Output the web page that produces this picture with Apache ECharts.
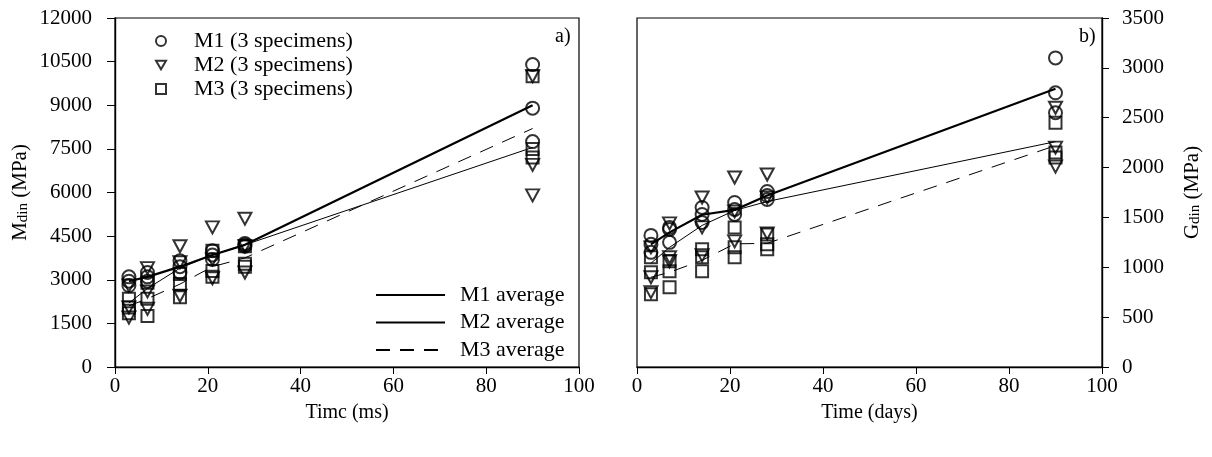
<!DOCTYPE html>
<html>
<head>
<meta charset="utf-8">
<script src="https://cdn.jsdelivr.net/npm/echarts/dist/echarts.min.js"></script>
<style>
  html, body { margin: 0; padding: 0; background: #fff; }
  #chart { width: 1212px; height: 457px; }
</style>
</head>
<body>
<div id="chart"></div>
<script>
// Curing ages (days) at which each specimen was tested
const days = [3, 7, 14, 21, 28, 90];

// Dynamic modulus M_din (MPa): three specimens per age
const m1Mdin = [[3100, 2950, 2800], [3250, 3100, 2950], [3650, 3450, 3250], [4000, 3850, 3700], [4250, 4200, 4150], [10400, 8900, 7750]];
const m2Mdin = [[2800, 2050, 1700], [3400, 2600, 2000], [4150, 3600, 2450], [4800, 3700, 3050], [5100, 4150, 3250], [10000, 6950, 5900]];
const m3Mdin = [[2350, 2050, 1850], [2900, 2350, 1750], [3200, 2850, 2400], [4000, 3300, 3100], [4150, 3550, 3450], [10000, 7500, 7200]];
const m1MdinAvg = [2950, 3100, 3450, 3850, 4200, 9000];
const m2MdinAvg = [2200, 2700, 3400, 3850, 4200, 7550];
const m3MdinAvg = [2100, 2350, 2850, 3450, 3750, 8200];

// Dynamic shear modulus G_din (MPa): three specimens per age
const m1Gdin = [[1320, 1230, 1150], [1400, 1380, 1250], [1600, 1530, 1450], [1650, 1580, 1530], [1760, 1720, 1680], [3100, 2750, 2550]];
const m2Gdin = [[1200, 900, 750], [1440, 1100, 1060], [1700, 1400, 1120], [1900, 1560, 1260], [1930, 1700, 1340], [2600, 2200, 2010]];
const m3Gdin = [[1100, 950, 730], [1060, 960, 800], [1180, 1100, 960], [1400, 1200, 1100], [1330, 1230, 1180], [2450, 2150, 2100]];
const m1GdinAvg = [1230, 1350, 1527, 1575, 1720, 2790];
const m2GdinAvg = [1040, 1200, 1420, 1570, 1660, 2260];
const m3GdinAvg = [900, 950, 1070, 1235, 1240, 2220];

// Axis ranges / tick steps
const timeAxis = { min: 0, max: 100, interval: 20 };
const mdinAxis = { min: 0, max: 12000, interval: 1500 };
const gdinAxis = { min: 0, max: 3500, interval: 500 };

const FONT = "'Liberation Serif', 'Times New Roman', serif";
const INK = '#000';

function specimens(vals) {
  const out = [];
  days.forEach((d, i) => vals[i].forEach(v => out.push([d, v])));
  return out;
}
function averages(vals) {
  return days.map((d, i) => [d, vals[i]]);
}

const downTriangle = 'path://M0,0L12,0L6,10.4Z';
const markerStyle = { color: 'rgba(255,255,255,0)', borderColor: INK, borderWidth: 2 };

function scatter(name, data, symbol, size, idx) {
  return {
    type: 'scatter', name, data: specimens(data), symbol, symbolSize: size,
    xAxisIndex: idx, yAxisIndex: idx, itemStyle: markerStyle, z: 3,
    emphasis: { disabled: true }
  };
}
function avgLine(name, data, width, type, idx) {
  return {
    type: 'line', name, data: averages(data), symbol: 'none', showSymbol: false,
    xAxisIndex: idx, yAxisIndex: idx, z: 2,
    lineStyle: { color: INK, width, type },
    itemStyle: { color: INK },
    emphasis: { disabled: true }
  };
}

const labelStyle = { color: INK, fontFamily: FONT, fontSize: 21, formatter: v => String(v) };
const lineStyle = { lineStyle: { color: INK, width: 1.4 } };

function xAxis(idx, name) {
  return {
    type: 'value', gridIndex: idx, ...timeAxis,
    name, nameLocation: 'middle', nameGap: 36,
    nameTextStyle: { color: INK, fontFamily: FONT, fontSize: 20 },
    axisLine: { show: true, onZero: false, ...lineStyle },
    axisTick: { show: true, inside: false, length: 7, lineStyle: { color: INK, width: 1 } },
    axisLabel: { ...labelStyle, margin: 9 },
    splitLine: { show: false }
  };
}
function subscriptName(sym) {
  return '{m|' + sym + '}{s|din}{m| (MPa)}';
}
const nameRich = {
  m: { fontFamily: FONT, fontSize: 21, color: INK },
  s: { fontFamily: FONT, fontSize: 15, color: INK, verticalAlign: 'bottom' }
};

const chart = echarts.init(document.getElementById('chart'), null, { renderer: 'canvas' });

chart.setOption({
  animation: false,
  backgroundColor: '#fff',
  grid: [
    { left: 115, right: 633, top: 18, bottom: 90, show: true, borderColor: INK, borderWidth: 1.2, backgroundColor: 'transparent' },
    { left: 637, right: 110, top: 18, bottom: 90, show: true, borderColor: INK, borderWidth: 1.2, backgroundColor: 'transparent' }
  ],
  xAxis: [xAxis(0, 'Timc (ms)'), xAxis(1, 'Time (days)')],
  yAxis: [
    {
      type: 'value', gridIndex: 0, ...mdinAxis, position: 'left',
      name: subscriptName('M'), nameLocation: 'middle', nameGap: 84, nameRotate: 90,
      nameTextStyle: { rich: nameRich },
      axisLine: { show: true, onZero: false, ...lineStyle },
      axisTick: { show: true, inside: false, length: 8, lineStyle: { color: INK, width: 1 } },
      axisLabel: { ...labelStyle, margin: 23 },
      splitLine: { show: false }
    },
    {
      type: 'value', gridIndex: 1, ...gdinAxis, position: 'right',
      name: subscriptName('G'), nameLocation: 'middle', nameGap: 80, nameRotate: 90,
      nameTextStyle: { rich: nameRich },
      axisLine: { show: true, onZero: false, ...lineStyle },
      axisTick: { show: true, inside: false, length: 7, lineStyle: { color: INK, width: 1 } },
      axisLabel: { ...labelStyle, margin: 20 },
      splitLine: { show: false }
    }
  ],
  legend: [
    {
      data: ['M1 (3 specimens)', 'M2 (3 specimens)', 'M3 (3 specimens)'],
      orient: 'vertical', left: 150, top: 25, itemWidth: 10, itemHeight: 10, itemGap: 2,
      selectedMode: false,
      textStyle: { color: INK, fontFamily: FONT, fontSize: 22, lineHeight: 22, padding: [0, 0, 0, 23] }
    },
    {
      data: ['M1 average', 'M2 average', 'M3 average'],
      orient: 'vertical', left: 370, top: 279, itemWidth: 69, itemHeight: 14, itemGap: 5.5,
      selectedMode: false,
      itemStyle: { opacity: 0 },
      textStyle: { color: INK, fontFamily: FONT, fontSize: 22, lineHeight: 22, padding: [0, 0, 0, 10] }
    }
  ],
  graphic: [
    { type: 'text', left: 555, top: 27, style: { text: 'a)', fill: INK, font: '20px ' + FONT } },
    { type: 'text', left: 1079, top: 27, style: { text: 'b)', fill: INK, font: '20px ' + FONT } }
  ],
  series: [
    avgLine('M1 average', m1MdinAvg, 2.2, 'solid', 0),
    avgLine('M2 average', m2MdinAvg, 1, 'solid', 0),
    avgLine('M3 average', m3MdinAvg, 1, [14, 10], 0),
    scatter('M1 (3 specimens)', m1Mdin, 'circle', 13, 0),
    scatter('M2 (3 specimens)', m2Mdin, downTriangle, [13, 12], 0),
    scatter('M3 (3 specimens)', m3Mdin, 'rect', 12, 0),

    avgLine('M1 average', m1GdinAvg, 2.2, 'solid', 1),
    avgLine('M2 average', m2GdinAvg, 1, 'solid', 1),
    avgLine('M3 average', m3GdinAvg, 1, [14, 10], 1),
    scatter('M1 (3 specimens)', m1Gdin, 'circle', 13, 1),
    scatter('M2 (3 specimens)', m2Gdin, downTriangle, [13, 12], 1),
    scatter('M3 (3 specimens)', m3Gdin, 'rect', 12, 1)
  ]
});
</script>
</body>
</html>
